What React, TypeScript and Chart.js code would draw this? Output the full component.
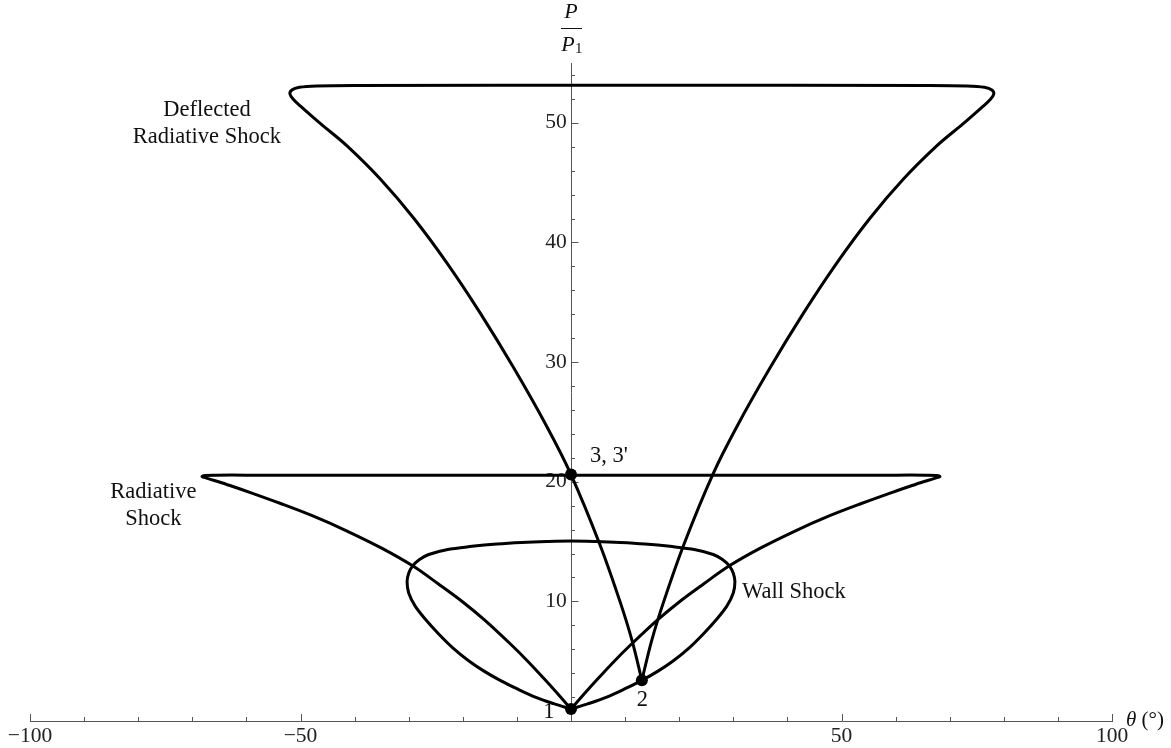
import React, { useEffect, useRef } from 'react';
import { Chart, registerables } from 'chart.js';

Chart.register(...registerables);

const SERIF = '"Liberation Serif", "Times New Roman", serif';
const AXIS_COLOR = '#555555';
const TEXT_COLOR = '#111111';
const CURVE_COLOR = '#000000';

// Axis ranges and ticks (theta in degrees, pressure ratio P/P1)
const X_MIN = -100;
const X_MAX = 100;
const Y_MIN = 0;
const Y_MAX = 55;
const xMajorTicks = [-100, -50, 50, 100];
const yMajorTicks = [10, 20, 30, 40, 50];
const xMinorStep = 10;
const yMinorStep = 2;

// Wall shock polar (closed loop through state 1)
const wallTheta = [0, 3.2, 6.6, 10.0, 13.1, 16.0, 18.8, 21.8, 24.5, 27.0, 28.8, 30.0, 30.3, 30.0, 29.3, 28.0, 26.3, 23.0, 18.3, 13.7, 9.1, 4.5, 0,
  -4.5, -9.1, -13.7, -18.3, -23.0, -26.3, -28.0, -29.3, -30.0, -30.3, -30.0, -28.8, -27.0, -24.5, -21.8, -18.8, -16.0, -13.1, -10.0, -6.6, -3.2, 0];
const wallP = [1.0, 1.45, 2.0, 2.7, 3.4, 4.15, 5.0, 6.1, 7.3, 8.55, 9.6, 10.7, 11.65, 12.35, 12.95, 13.5, 13.92, 14.32, 14.6, 14.8, 14.93, 15.01, 15.05,
  15.01, 14.93, 14.8, 14.6, 14.32, 13.92, 13.5, 12.95, 12.35, 11.65, 10.7, 9.6, 8.55, 7.3, 6.1, 5.0, 4.15, 3.4, 2.7, 2.0, 1.45, 1.0];

// Radiative shock polar (closed loop through state 1)
const radTheta = [0, 2.5, 5.0, 8.0, 11.0, 16.0, 20.0, 24.5, 29.2, 35.0, 41.5, 47.5, 53.8, 59.0, 62.5, 65.0, 66.8, 67.8, 68.2, 67.6, 65.5, 60.0, 50.0, 30.0, 0,
  -30.0, -50.0, -60.0, -65.5, -67.6, -68.2, -67.8, -66.8, -65.0, -62.5, -59.0, -53.8, -47.5, -41.5, -35.0, -29.2, -24.5, -20.0, -16.0, -11.0, -8.0, -5.0, -2.5, 0];
const radP = [1.0, 2.3, 3.55, 5.0, 6.35, 8.45, 9.95, 11.45, 12.95, 14.45, 15.9, 17.1, 18.2, 19.05, 19.6, 19.98, 20.22, 20.36, 20.45, 20.53, 20.55, 20.55, 20.55, 20.55, 20.55,
  20.55, 20.55, 20.55, 20.55, 20.53, 20.45, 20.36, 20.22, 19.98, 19.6, 19.05, 18.2, 17.1, 15.9, 14.45, 12.95, 11.45, 9.95, 8.45, 6.35, 5.0, 3.55, 2.3, 1.0];

// Deflected radiative shock polar (closed loop through state 2)
const deflTheta = [13.1, 11.3, 9.05, 5.3, 0, -4.45, -10.65, -16.8, -22.95, -29.1, -35.25, -41.45, -46.3, -50.0, -51.3, -51.95, -51.6, -50.2, -47.0, -40.0,
  13.1, 66.2, 73.2, 76.4, 77.8, 78.15, 77.5, 76.2, 72.5, 67.65, 61.45, 55.3, 49.15, 43.0, 36.85, 30.65, 26.2, 20.9, 17.15, 14.9, 13.1];
const deflP = [3.4, 6.7, 10.0, 14.8, 20.6, 24.6, 29.56, 34.11, 38.29, 42.04, 45.3, 48.09, 49.93, 51.4, 51.95, 52.4, 52.75, 52.97, 53.08, 53.12,
  53.14, 53.12, 53.08, 52.97, 52.75, 52.4, 51.95, 51.4, 49.93, 48.09, 45.3, 42.04, 38.29, 34.11, 29.56, 24.6, 20.6, 14.8, 10.0, 6.7, 3.4];

// Marked states 1, 2 and 3 (= 3')
const stateTheta = [0, 13.1, 0];
const stateP = [1.0, 3.4, 20.6];
const stateNames = ['1', '2', "3, 3'"];
const stateLabelTheta = [-4.1, 13.2, 3.5];
const stateLabelP = [0.75, 1.75, 22.15];
const stateLabelAlign: CanvasTextAlign[] = ['center', 'center', 'left'];

// Curve captions
const captionLines = [['Deflected', 'Radiative Shock'], ['Radiative', 'Shock'], ['Wall Shock']];
const captionTheta = [-67.3, -77.2, 31.6];
const captionP = [51.1, 19.15, 10.8];
const captionAlign: CanvasTextAlign[] = ['center', 'center', 'left'];

const zip = (xs: number[], ys: number[]) => xs.map((x, i) => ({ x, y: ys[i] }));

const curve = (label: string, xs: number[], ys: number[]) => ({
  label,
  data: zip(xs, ys),
  showLine: true,
  borderColor: CURVE_COLOR,
  borderWidth: 3,
  pointRadius: 0,
  tension: 0.35,
  fill: false,
  order: 2,
});

const fmtTick = (v: number) => (v < 0 ? '\u2212' + Math.abs(v) : String(v));

const decorPlugin = {
  id: 'polarDecor',
  beforeDatasetsDraw(chart: any) {
    const { ctx, scales } = chart;
    const xs = scales.x;
    const ys = scales.y;
    const x0 = xs.getPixelForValue(0);
    const y0 = ys.getPixelForValue(0);
    ctx.save();
    ctx.strokeStyle = AXIS_COLOR;
    ctx.lineWidth = 1;
    ctx.beginPath();
    for (let v = X_MIN; v <= X_MAX; v += xMinorStep) {
      if (v === 0) continue;
      const px = Math.round(xs.getPixelForValue(v)) + 0.5;
      const len = xMajorTicks.includes(v) ? 7 : 4;
      ctx.moveTo(px, y0);
      ctx.lineTo(px, y0 - len);
    }
    for (let v = yMinorStep; v <= Y_MAX; v += yMinorStep) {
      const py = Math.round(ys.getPixelForValue(v)) + 0.5;
      const len = yMajorTicks.includes(v) ? 7.5 : 4;
      ctx.moveTo(x0, py);
      ctx.lineTo(x0 + len, py);
    }
    ctx.stroke();
    ctx.restore();
  },
  afterDatasetsDraw(chart: any) {
    const { ctx, scales, chartArea } = chart;
    const xs = scales.x;
    const ys = scales.y;
    ctx.save();
    ctx.fillStyle = TEXT_COLOR;
    ctx.textBaseline = 'middle';

    // captions
    ctx.font = `22.5px ${SERIF}`;
    captionLines.forEach((lines, i) => {
      const px = xs.getPixelForValue(captionTheta[i]);
      const py = ys.getPixelForValue(captionP[i]);
      ctx.textAlign = captionAlign[i];
      lines.forEach((t, k) => ctx.fillText(t, px, py + k * 27));
    });

    // state labels
    stateNames.forEach((t, i) => {
      ctx.textAlign = stateLabelAlign[i];
      ctx.fillText(t, xs.getPixelForValue(stateLabelTheta[i]), ys.getPixelForValue(stateLabelP[i]));
    });

    // y-axis title: P / P1
    const cx = xs.getPixelForValue(0);
    const top = chartArea.top;
    ctx.textAlign = 'center';
    ctx.font = `italic 22px ${SERIF}`;
    ctx.fillText('P', cx, top - 51);
    ctx.fillText('P', cx - 3, top - 18);
    ctx.font = `15px ${SERIF}`;
    ctx.textAlign = 'left';
    ctx.fillText('1', cx + 4, top - 14);
    ctx.strokeStyle = TEXT_COLOR;
    ctx.lineWidth = 1;
    ctx.beginPath();
    ctx.moveTo(cx - 10, Math.round(top - 35) + 0.5);
    ctx.lineTo(cx + 11, Math.round(top - 35) + 0.5);
    ctx.stroke();

    // x-axis title: theta (deg)
    const tx = xs.getPixelForValue(X_MAX) + 14;
    const ty = ys.getPixelForValue(0) - 1;
    ctx.textAlign = 'left';
    ctx.font = `italic 21px ${SERIF}`;
    ctx.fillText('\u03B8', tx, ty);
    const w = ctx.measureText('\u03B8 ').width;
    ctx.font = `21px ${SERIF}`;
    ctx.fillText('(\u00B0)', tx + w, ty);
    ctx.restore();
  },
};

export default function App() {
  const ref = useRef<HTMLCanvasElement>(null);

  useEffect(() => {
    if (!ref.current) return;
    const chart = new Chart(ref.current, {
      type: 'scatter',
      data: {
        datasets: [
          {
            label: 'States',
            data: zip(stateTheta, stateP),
            pointRadius: 6,
            pointBackgroundColor: '#000',
            pointBorderWidth: 0,
            showLine: false,
            order: 0,
          } as any,
          curve('Deflected Radiative Shock', deflTheta, deflP),
          curve('Radiative Shock', radTheta, radP),
          curve('Wall Shock', wallTheta, wallP),
        ],
      },
      options: {
        responsive: false,
        animation: false,
        events: [],
        layout: { padding: { left: 30, right: 59, top: 63, bottom: 27 } },
        plugins: {
          legend: { display: false },
          tooltip: { enabled: false },
          title: { display: false },
        },
        scales: {
          x: {
            type: 'linear',
            min: X_MIN,
            max: X_MAX,
            position: { y: 0 } as any,
            grid: { drawOnChartArea: false, drawTicks: false, lineWidth: 1 },
            border: { display: true, color: AXIS_COLOR, width: 1 },
            afterBuildTicks: (s: any) => {
              s.ticks = xMajorTicks.map((value) => ({ value }));
            },
            ticks: {
              autoSkip: false,
              maxRotation: 0,
              padding: 2,
              color: '#222',
              font: { family: SERIF, size: 21.5 },
              callback: (v: any) => fmtTick(Number(v)),
            },
          },
          y: {
            type: 'linear',
            min: Y_MIN,
            max: Y_MAX,
            position: { x: 0 } as any,
            grid: { drawOnChartArea: false, drawTicks: false, lineWidth: 1 },
            border: { display: true, color: AXIS_COLOR, width: 1 },
            afterBuildTicks: (s: any) => {
              s.ticks = yMajorTicks.map((value) => ({ value }));
            },
            ticks: {
              autoSkip: false,
              padding: 4,
              color: '#222',
              font: { family: SERIF, size: 21.5 },
              // thin space keeps the label clear of the axis line
              callback: (v: any) => fmtTick(Number(v)) + '\u2009',
            },
          },
        },
      },
      plugins: [decorPlugin],
    });
    return () => chart.destroy();
  }, []);

  return (
    <div style={{ position: 'absolute', left: 0, top: 0, width: 1171, height: 748, background: '#fff' }}>
      <canvas ref={ref} width={1171} height={748} style={{ display: 'block', width: 1171, height: 748 }} />
    </div>
  );
}
